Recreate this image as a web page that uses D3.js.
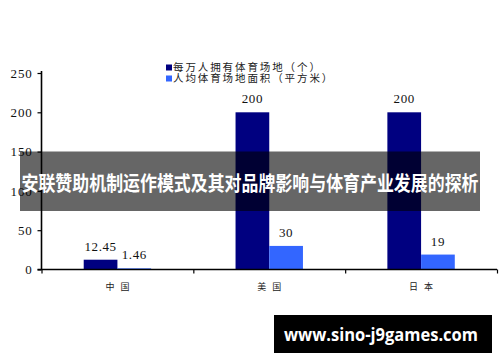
<!DOCTYPE html>
<html>
<head>
<meta charset="utf-8">
<script src="https://cdn.jsdelivr.net/npm/d3@7"></script>
<style>
  html, body { margin: 0; padding: 0; background: #fff; }
  svg { display: block; }
</style>
</head>
<body>
<svg id="chart" width="500" height="362"></svg>
<script>
// data
var categories = ["中国", "美国", "日本"];
var seriesNames = ["每万人拥有体育场地（个）", "人均体育场地面积（平方米）"];
var venuesPer10k = [12.45, 200, 200];
var areaPerCapita = [1.46, 30, 19];
var valueLabels = [["12.45", "1.46"], ["200", "30"], ["200", "19"]];
var yTicks = [0, 50, 100, 150, 200, 250];
var colors = ["#000080", "#3366ff"];

var svg = d3.select("#chart");

// plot area (note: "top" is a reserved window global, so use other names)
var plotLeft = 41.5, plotRight = 497, plotTop = 73, plotBottom = 269.5;

var x = d3.scaleBand().domain(categories).range([plotLeft, plotRight]).paddingInner(0).paddingOuter(0);
var xSub = d3.scaleBand().domain([0, 1]).range([0, x.bandwidth() * 0.444]);
var y = d3.scaleLinear().domain([0, 250]).range([plotBottom, plotTop]);

var serif = "'Liberation Serif', 'DejaVu Serif', serif";
var cjk = "'Noto Sans CJK SC', sans-serif";

/* bars */
var rows = categories.map(function(c, i) {
  return { cat: c, vals: [venuesPer10k[i], areaPerCapita[i]], labels: valueLabels[i] };
});

var groups = svg.append("g").attr("class", "bars")
  .selectAll("g").data(rows).enter().append("g")
  .attr("transform", function(d) {
    return "translate(" + (x(d.cat) + (x.bandwidth() - xSub.range()[1]) / 2) + ",0)";
  });

groups.selectAll("rect").data(function(d) { return d.vals; }).enter().append("rect")
  .attr("x", function(d, i) { return xSub(i); })
  .attr("y", function(d) { return y(d); })
  .attr("width", xSub.bandwidth())
  .attr("height", function(d) { return Math.max(1, plotBottom - y(d)); })
  .attr("fill", function(d, i) { return colors[i]; });

groups.selectAll("text").data(function(d) {
    return d.vals.map(function(v, i) { return { v: v, label: d.labels[i] }; });
  }).enter().append("text")
  .attr("x", function(d, i) { return xSub(i) + xSub.bandwidth() / 2; })
  .attr("y", function(d) { return y(d.v) - 9; })
  .attr("text-anchor", "middle")
  .attr("font-family", serif)
  .attr("font-size", 13)
  .attr("letter-spacing", 0.6)
  .attr("fill", "#111")
  .text(function(d) { return d.label; });

/* y axis */
var yAxis = svg.append("g")
  .attr("transform", "translate(" + plotLeft + ",0)")
  .call(d3.axisLeft(y).tickValues(yTicks).tickSize(4).tickPadding(5));
yAxis.select(".domain").attr("stroke", "#000").attr("stroke-width", 1.6).attr("d", "M0," + (plotTop - 2) + "V" + plotBottom);
yAxis.selectAll(".tick line").attr("stroke", "#000").attr("stroke-width", 1.2);
yAxis.selectAll(".tick text")
  .attr("font-family", serif).attr("font-size", 13).attr("letter-spacing", 0.8).attr("fill", "#111");

/* x axis: ticks at band edges, labels at centres */
var xEdges = d3.scaleLinear().domain([0, categories.length]).range([plotLeft, plotRight]);
var xAxis = svg.append("g")
  .attr("transform", "translate(0," + plotBottom + ")")
  .call(d3.axisBottom(xEdges).tickValues(d3.range(categories.length + 1)).tickSize(4).tickFormat(""));
xAxis.select(".domain").attr("stroke", "#000").attr("stroke-width", 1.6).attr("d", "M" + (plotLeft - 4) + ",0H" + plotRight);
xAxis.selectAll(".tick line").attr("stroke", "#000").attr("stroke-width", 1.2);

svg.append("g").selectAll("text").data(categories).enter().append("text")
  .attr("x", function(d) { return x(d) + x.bandwidth() / 2 + 3; })
  .attr("y", 290)
  .attr("text-anchor", "middle")
  .attr("font-family", cjk)
  .attr("font-size", 9)
  .attr("letter-spacing", 6)
  .attr("fill", "#222")
  .text(function(d) { return d; });

/* legend */
var legend = svg.append("g").attr("transform", "translate(166,64)");
var items = legend.selectAll("g").data(seriesNames).enter().append("g")
  .attr("transform", function(d, i) { return "translate(0," + (i * 11) + ")"; });
items.append("rect").attr("width", 6).attr("height", 6).attr("y", 0.5)
  .attr("fill", function(d, i) { return colors[i]; });
items.append("text")
  .attr("x", 7).attr("y", 7)
  .attr("font-family", cjk).attr("font-size", 10.5).attr("letter-spacing", 1.9)
  .attr("fill", "#222")
  .text(function(d) { return d; });

/* overlay banner */
svg.append("rect")
  .attr("x", 20).attr("y", 151.5).attr("width", 460).attr("height", 59.5)
  .attr("fill", "#000").attr("fill-opacity", 0.6);
svg.append("text")
  .attr("x", 250).attr("y", 191)
  .attr("text-anchor", "middle")
  .attr("font-family", cjk).attr("font-weight", "bold").attr("font-size", 20.5)
  .attr("textLength", 457).attr("lengthAdjust", "spacingAndGlyphs")
  .attr("fill", "#fff")
  .text("安联赞助机制运作模式及其对品牌影响与体育产业发展的探析");

/* watermark */
svg.append("rect")
  .attr("x", 274).attr("y", 315).attr("width", 218).attr("height", 38)
  .attr("fill", "#000");
svg.append("text")
  .attr("x", 381).attr("y", 341)
  .attr("text-anchor", "middle")
  .attr("font-family", "'Open Sans', sans-serif").attr("font-weight", "bold").attr("font-size", 17)
  .attr("textLength", 194).attr("lengthAdjust", "spacingAndGlyphs")
  .attr("fill", "#fff")
  .text("www.sino-j9games.com");
</script>
</body>
</html>
